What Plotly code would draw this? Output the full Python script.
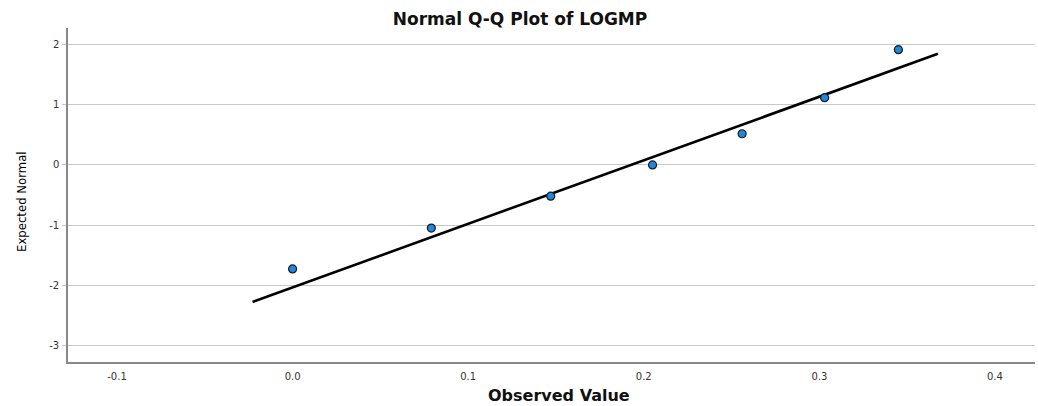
import plotly.graph_objects as go

observed = [0.000, 0.079, 0.147, 0.205, 0.256, 0.303, 0.345]
expected = [-1.73, -1.05, -0.52, 0.00, 0.52, 1.12, 1.92]
line_x = [-0.0228, 0.3675]
line_y = [-2.28, 1.85]
x_ticks = [-0.1, 0.0, 0.1, 0.2, 0.3, 0.4]
x_ticklabels = ["-0.1", "0.0", "0.1", "0.2", "0.3", "0.4"]
y_ticks = [-3, -2, -1, 0, 1, 2]
y_ticklabels = ["-3", "-2", "-1", "0", "1", "2"]

W, H = 1038, 406
L, R, T, B = 68, 3, 28, 44
PW, PH = W - L - R, H - T - B

fig = go.Figure()
fig.add_trace(go.Scatter(x=line_x, y=line_y, mode="lines",
                         line=dict(color="black", width=2.6), showlegend=False, hoverinfo="skip"))
fig.add_trace(go.Scatter(x=observed, y=expected, mode="markers",
                         marker=dict(color="#1E88E0", size=8, line=dict(color="#1a1a1a", width=1.2)),
                         showlegend=False))

fig.update_layout(
    width=W, height=H,
    margin=dict(l=L, r=R, t=T, b=B),
    paper_bgcolor="white", plot_bgcolor="white",
    title=dict(text="<b>Normal Q-Q Plot of LOGMP</b>", x=520 / W, xref="container", xanchor="center",
               y=1 - 19 / H, yref="container", yanchor="middle", automargin=False,
               font=dict(family="DejaVu Sans", size=17, color="#111")),
    font=dict(family="DejaVu Sans", size=10, color="#333"),
    annotations=[
        dict(text="<b>Observed Value</b>", xref="paper", yref="paper",
             x=(559 - L) / PW, y=-(395 - (H - B)) / PH, xanchor="center", yanchor="middle",
             showarrow=False, font=dict(family="DejaVu Sans", size=16, color="#111")),
        dict(text="Expected Normal", xref="paper", yref="paper", textangle=-90,
             x=-(L - 21.5) / PW, y=((H - B) - 201.5) / PH, xanchor="center", yanchor="middle",
             showarrow=False,
             font=dict(family="Liberation Sans Narrow, DejaVu Sans Condensed, Arial Narrow", size=13, color="#000")),
    ],
)
fig.update_xaxes(range=[-0.1279, 0.4228], tickvals=x_ticks, ticktext=x_ticklabels,
                 showgrid=False, zeroline=False, showline=True, linecolor="#888", linewidth=1.5,
                 ticks="", ticklabelstandoff=4, automargin=False)
fig.update_yaxes(range=[-3.28, 2.28], tickvals=y_ticks, ticktext=y_ticklabels,
                 showgrid=True, gridcolor="#c8c8c8", gridwidth=1, zeroline=False,
                 showline=True, linecolor="#888", linewidth=1.5, automargin=False,
                 ticks="outside", ticklen=4, tickcolor="#c8c8c8", ticklabelstandoff=1)

fig.write_html("out.html", config={"displayModeBar": False},
               post_script="document.body.style.margin='0';")
